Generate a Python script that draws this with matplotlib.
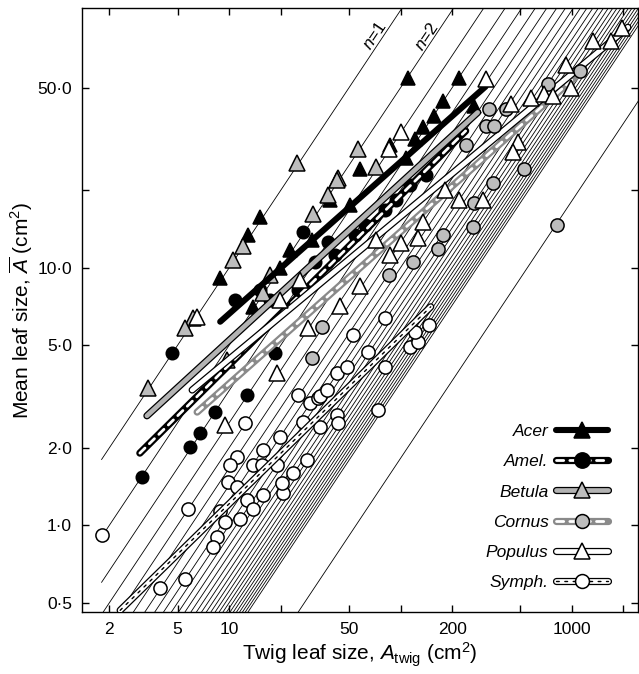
import matplotlib
matplotlib.use('Agg')
import matplotlib.pyplot as plt
import numpy as np
from matplotlib.lines import Line2D
from matplotlib.legend_handler import HandlerTuple
from matplotlib.ticker import FixedLocator, FixedFormatter, NullLocator

plt.rcParams['font.family'] = ['Liberation Sans', 'DejaVu Sans']
plt.rcParams['mathtext.fontset'] = 'custom'
plt.rcParams['mathtext.rm'] = 'Liberation Sans'
plt.rcParams['mathtext.it'] = 'Liberation Sans:italic'

# ---------------- data: twig leaf area (x) vs mean leaf area (y), cm^2 ----------------
acer_x = [8.86, 12.9, 15.2, 13.8, 19.9, 22.7, 39, 58.3, 87.4, 110, 218, 178, 156, 134.5, 267,
          30.5, 51, 107, 122]
acer_y = [9.15, 13.4, 15.7, 7.05, 10.0, 11.75, 18.4, 24.1, 30.1, 54.8, 54.8, 44.3, 38.7, 35.1, 42.3,
          12.8, 17.6, 26.8, 31.5]

amel_x = [4.64, 3.10, 5.91, 6.77, 8.28, 12.7, 18.6, 27.1, 37.9, 25.3, 10.8, 15.2, 31.8, 54.6, 81.7,
          114, 41.7, 62.4, 93.5, 140, 17.4]
amel_y = [4.67, 1.54, 2.01, 2.28, 2.75, 3.21, 4.67, 13.8, 12.6, 8.2, 7.5, 8.2, 10.5, 13.4, 16.8,
          21.0, 11.2, 14.7, 18.4, 23.0, 7.5]

betula_x = [3.36, 25.0, 56.8, 43.4, 37.9, 31.0, 10.5, 12.1, 6.16, 5.53, 15.8, 71.5, 42.8, 9.73, 17.4]
betula_y = [3.41, 25.6, 28.8, 22.4, 19.2, 16.1, 10.7, 12.1, 6.38, 5.84, 8.0, 24.7, 22.0, 4.38, 9.4]

cornus_x = [327, 411, 314, 350, 240, 524, 345, 267, 264, 176, 165, 117.5, 85.1, 817, 1114, 724, 30.5, 35]
cornus_y = [41.2, 41.2, 35.4, 35.4, 30.1, 24.1, 21.4, 17.9, 14.4, 13.4, 11.8, 10.5, 9.4, 14.7, 58.0,
            51.5, 4.47, 5.9]

populus_x = [100, 85.1, 314, 440, 575, 686, 483, 452, 302, 218, 136, 126, 100, 87.4, 58.3, 44.6,
             923, 987, 775, 1327, 1690, 1960, 6.5, 19.1, 9.5, 29, 19.9, 26, 71.5, 183]
populus_y = [33.8, 28.8, 53.9, 43.4, 45.8, 47.1, 30.9, 28.2, 18.4, 18.4, 15.1, 13.0, 12.5, 11.2, 8.5,
             7.1, 61.1, 50.1, 46.3, 75.7, 75.7, 85.1, 6.44, 3.9, 2.45, 5.84, 7.5, 9.0, 12.8, 20.1]

symph_x = [1.81, 5.75, 3.94, 5.53, 12.4, 11.1, 10.1, 9.87, 11.1, 8.86, 9.48, 8.51, 8.06, 11.6, 12.7,
           13.8, 13.8, 15.8, 15.6, 15.8, 19.1, 19.9, 20.7, 20.4, 23.7, 25.3, 28.6, 29.8, 27.1, 33.1,
           34, 42.8, 49, 65, 81.7, 74.3, 42.8, 43.4, 34, 37.4, 114, 126, 81.7, 146, 53.1, 122]
symph_y = [0.914, 1.16, 0.569, 0.617, 2.49, 1.84, 1.71, 1.47, 1.41, 1.14, 1.03, 0.898, 0.82, 1.06, 1.25,
           1.16, 1.71, 1.96, 1.71, 1.31, 1.71, 2.2, 1.33, 1.46, 1.59, 3.21, 1.79, 2.99, 2.52, 3.12,
           3.17, 3.9, 4.12, 4.71, 4.12, 2.8, 2.68, 2.49, 2.4, 3.35, 4.93, 5.15, 6.38, 6.0, 5.48, 5.64]

# fitted allometric lines: end points (x, y)
fit_acer = ([8.86, 314], [6.17, 50.6])
fit_amel = ([3.01, 240], [1.905, 34.0])
fit_betula = ([3.31, 282], [2.66, 40.1])
fit_cornus = ([6.5, 1175], [2.75, 58.9])
fit_populus = ([6.08, 2123], [3.35, 85.9])
fit_symph = ([2.31, 150], [0.467, 7.05])

# leaves per twig for the isolines A = A_twig / n
n_values = list(range(1, 29)) + [55]

genera = ['Acer', 'Amel.', 'Betula', 'Cornus', 'Populus', 'Symph.']

x_ticks = [2, 5, 10, 20, 50, 100, 200, 500, 1000, 2000]
x_labels = ['2', '5', '10', '', '50', '', '200', '', '1000', '']
y_ticks = [0.5, 1, 2, 5, 10, 20, 50]
y_labels = ['0·5', '1·0', '2·0', '5·0', '10·0', '', '50·0']

# ---------------- figure ----------------
fig = plt.figure(figsize=(6.39, 6.74), dpi=100)
ax = fig.add_axes([0.1278, 0.092, 0.8706, 0.896])
ax.set_xscale('log')
ax.set_yscale('log')
ax.set_xlim(1.377, 2432)
ax.set_ylim(0.46, 102)

# isolines
xs = np.array([1.8, 4000.0])
for n in n_values:
    ax.plot(xs, xs / n, color='black', lw=0.6, zorder=1)

ax.text(71, 80, r'$n$=1', rotation=56, ha='center', va='center', fontsize=12.5)
ax.text(142, 79, r'$n$=2', rotation=56, ha='center', va='center', fontsize=12.5)

GRAY_M = '#bdbdbd'
GRAY_L = '#b3b3b3'
GRAY_D = '#8a8a8a'
mk = dict(linestyle='none', markeredgecolor='black', markeredgewidth=1.1)

# markers
ax.plot(acer_x, acer_y, marker='^', markersize=10, markerfacecolor='black', zorder=2, **mk)
ax.plot(amel_x, amel_y, marker='o', markersize=9, markerfacecolor='black', zorder=2, **mk)
ax.plot(betula_x, betula_y, marker='^', markersize=11, markerfacecolor=GRAY_M, zorder=2, **mk)
ax.plot(symph_x, symph_y, marker='o', markersize=9.5, markerfacecolor='white', zorder=2, **mk)
ax.plot(cornus_x, cornus_y, marker='o', markersize=9.5, markerfacecolor=GRAY_M, zorder=4, **mk)
ax.plot(populus_x, populus_y, marker='^', markersize=11, markerfacecolor='white', zorder=4, **mk)

# fitted lines, layered strokes
def styled(fx, fy, layers):
    for kw in layers:
        ax.plot(fx, fy, solid_capstyle='round', dash_capstyle='round', zorder=3, **kw)

acer_layers = [dict(color='black', lw=4.4)]
amel_layers = [dict(color='black', lw=5.2), dict(color='white', lw=2.0, dashes=(2.6, 2.2))]
betula_layers = [dict(color='black', lw=5.2), dict(color=GRAY_L, lw=3.4)]
cornus_layers = [dict(color=GRAY_D, lw=5.2), dict(color='white', lw=2.0, dashes=(2.6, 2.2))]
populus_layers = [dict(color='black', lw=5.2), dict(color='white', lw=3.4)]
symph_layers = [dict(color='black', lw=5.2), dict(color='white', lw=3.4),
                dict(color='black', lw=1.0, dashes=(2.0, 4.0))]

styled(*fit_acer, acer_layers)
styled(*fit_amel, amel_layers)
styled(*fit_betula, betula_layers)
styled(*fit_cornus, cornus_layers)
styled(*fit_populus, populus_layers)
styled(*fit_symph, symph_layers)

# legend handles
def handle(layers, marker, mfc, ms):
    parts = [Line2D([], [], solid_capstyle='round', dash_capstyle='round', **kw) for kw in layers]
    parts.append(Line2D([], [], marker=marker, markersize=ms, markerfacecolor=mfc, **mk))
    return tuple(parts)

handles = [
    handle(acer_layers, '^', 'black', 12),
    handle(amel_layers, 'o', 'black', 11),
    handle(betula_layers, '^', GRAY_M, 12),
    handle(cornus_layers, 'o', GRAY_M, 10),
    handle(populus_layers, '^', 'white', 12),
    handle(symph_layers, 'o', 'white', 10),
]
leg = ax.legend(handles, genera, handler_map={tuple: HandlerTuple(ndivide=1, pad=0)},
                loc='lower right', bbox_to_anchor=(0.975, 0.010), frameon=False,
                markerfirst=False, handlelength=3.0, handletextpad=0.45,
                labelspacing=0.87, prop={'style': 'italic', 'size': 12.5})

# axes, ticks
for s in ax.spines.values():
    s.set_linewidth(1.0)
ax.xaxis.set_major_locator(FixedLocator(x_ticks))
ax.xaxis.set_major_formatter(FixedFormatter(x_labels))
ax.yaxis.set_major_locator(FixedLocator(y_ticks))
ax.yaxis.set_major_formatter(FixedFormatter(y_labels))
ax.xaxis.set_minor_locator(NullLocator())
ax.yaxis.set_minor_locator(NullLocator())
ax.tick_params(which='major', direction='in', length=5, width=1.0, top=True, right=True,
               labelsize=12.5, pad=7)

ax.set_xlabel(r'Twig leaf size, $A_{\mathrm{twig}}$ (cm$^2$)', fontsize=15, labelpad=3)
ax.set_ylabel(r'Mean leaf size, $\overline{A}$ (cm$^2$)', fontsize=15, labelpad=2)

fig.savefig('out.png', dpi=100)
